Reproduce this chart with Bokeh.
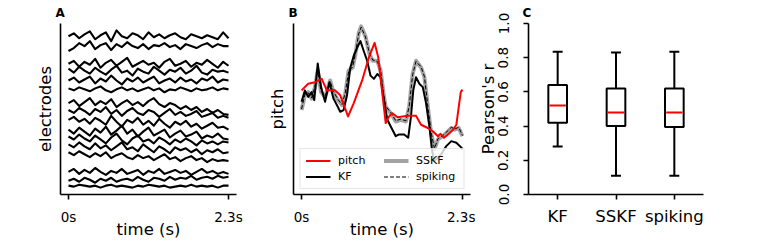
import numpy as np
from bokeh.plotting import figure
from bokeh.layouts import row
from bokeh.models import FixedTicker, Legend, LegendItem, Range1d
from bokeh.embed import file_html
from bokeh.resources import INLINE

FONT = "DejaVu Sans"

# ---------------- Panel A: electrode traces ----------------
trace_t = np.linspace(0, 2.3, 31)
electrode_traces = [
    [165,168,163,167,170,162,166,169,160,171,165,163,168,166,162,169,164,167,163,166,168,164,162,167,165,163,166,164,162,169,163],
    [150,153,158,155,160,152,156,158,151,157,154,159,155,153,157,152,156,155,158,154,156,152,157,155,153,156,158,154,157,155,155],
    [137,140,134,139,136,142,133,138,141,135,139,143,134,137,140,136,138,133,139,142,135,137,140,134,138,136,141,137,133,139,135],
    [132,128,134,130,127,133,129,126,131,135,128,130,125,132,129,127,134,130,126,131,129,133,127,130,135,128,126,131,129,130,128],
    [120,123,118,121,124,117,122,119,125,120,116,122,119,123,118,121,124,117,120,122,118,123,119,121,117,122,120,124,118,121,120],
    [112,110,113,111,109,112,114,110,108,111,113,110,112,109,111,113,110,112,108,111,110,113,111,109,112,110,111,113,110,112,111],
    [97,100,94,98,102,95,99,96,101,93,97,100,95,98,94,99,102,96,93,97,95,91,94,90,93,88,91,87,90,86,85],
    [90,87,92,89,85,91,88,93,86,90,84,89,92,87,85,90,88,83,87,91,85,88,84,86,89,83,85,87,82,84,82],
    [80,83,78,81,76,82,79,75,84,78,73,80,77,82,75,79,74,81,76,72,78,75,79,73,76,71,74,77,72,73,70],
    [70,66,72,68,64,71,67,73,65,69,74,66,70,63,68,72,64,67,70,62,66,69,63,65,68,61,64,62,66,61,60],
    [63,60,65,61,58,64,60,56,62,66,59,55,61,64,58,60,56,62,59,55,60,57,61,58,54,59,56,58,55,58,57],
    [55,52,57,53,50,56,51,54,49,53,57,50,52,48,55,51,47,53,50,46,52,49,51,47,50,45,49,47,50,46,47],
    [47,44,48,45,42,46,43,47,41,44,46,42,40,44,41,43,39,42,45,40,42,38,41,43,39,41,37,40,38,39,38],
    [27,30,25,29,26,31,27,24,28,26,30,25,27,29,24,28,26,30,25,27,29,26,28,24,27,30,26,28,25,27,25],
    [18,20,17,21,19,16,20,18,21,17,19,20,18,22,19,17,21,20,18,22,19,21,20,23,19,21,22,20,23,21,22],
    [13,12,14,13,12,13,11,13,14,12,13,12,11,13,12,14,13,12,13,11,12,13,12,14,12,13,12,13,11,13,13],
]

time_ticks = [0, 2.3]
time_tick_labels = ["0s", "2.3s"]

# ---------------- Panel B: pitch decoding ----------------
pitch_t = [0.000,0.095,0.192,0.289,0.361,0.481,0.553,0.615,0.664,0.745,0.866,0.962,1.044,1.097,1.145,1.203,1.250,
           1.299,1.372,1.516,1.636,1.708,1.805,1.877,1.949,1.987,2.036,2.094,2.166,2.213,2.247,2.276,2.300]
pitch_v = [0.609,0.648,0.657,0.676,0.609,0.609,0.580,0.513,0.456,0.533,0.667,0.801,0.887,0.801,0.628,0.418,0.456,
           0.475,0.452,0.460,0.460,0.408,0.389,0.370,0.341,0.355,0.332,0.351,0.379,0.408,0.513,0.599,0.613]

kf_t = [0.000,0.048,0.095,0.144,0.182,0.231,0.279,0.336,0.398,0.456,0.505,0.553,0.601,0.650,0.697,0.745,0.794,0.842,
        0.889,0.938,0.986,1.034,1.083,1.130,1.178,1.227,1.275,1.347,1.395,1.467,1.525,1.564,1.597,1.636,1.684,1.733,
        1.780,1.828,1.863,1.896,1.954,1.997,2.069,2.141,2.213,2.285,2.300]
kf_v = [0.542,0.609,0.571,0.599,0.552,0.766,0.628,0.542,0.657,0.561,0.523,0.484,0.494,0.580,0.743,0.810,0.858,0.897,
        0.839,0.782,0.695,0.676,0.705,0.686,0.552,0.437,0.398,0.341,0.351,0.351,0.332,0.456,0.609,0.686,0.648,0.628,
        0.533,0.398,0.264,0.195,0.218,0.236,0.283,0.312,0.303,0.274,0.264]

sskf_t = [0.000,0.048,0.095,0.144,0.192,0.231,0.279,0.336,0.409,0.456,0.520,0.578,0.625,0.673,0.731,0.770,0.817,0.852,
          0.914,0.972,1.019,1.083,1.130,1.178,1.203,1.275,1.347,1.419,1.492,1.539,1.588,1.636,1.708,1.756,1.805,1.852,
          1.900,1.949,2.021,2.094,2.141,2.189,2.247,2.300]
sskf_v = [0.494,0.580,0.599,0.561,0.628,0.724,0.599,0.571,0.667,0.599,0.552,0.523,0.590,0.724,0.743,0.820,0.944,0.983,
          0.925,0.820,0.782,0.782,0.724,0.571,0.513,0.475,0.427,0.437,0.427,0.513,0.705,0.782,0.743,0.686,0.513,0.360,
          0.264,0.322,0.341,0.370,0.389,0.379,0.389,0.341]

spiking_t = sskf_t
spiking_v = [0.500,0.585,0.595,0.565,0.632,0.720,0.603,0.575,0.662,0.603,0.556,0.527,0.594,0.720,0.747,0.824,0.940,0.979,
             0.921,0.824,0.786,0.778,0.728,0.575,0.517,0.479,0.431,0.441,0.431,0.517,0.701,0.778,0.747,0.690,0.517,0.364,
             0.268,0.326,0.345,0.374,0.393,0.383,0.393,0.345]

# ---------------- Panel C: Pearson's r box plots ----------------
methods = ["KF", "SSKF", "spiking"]
whisker_low = [0.28, 0.11, 0.11]
q1 = [0.42, 0.40, 0.395]
medians = [0.52, 0.48, 0.48]
q3 = [0.64, 0.62, 0.62]
whisker_high = [0.835, 0.83, 0.835]
r_ticks = [0.0, 0.2, 0.4, 0.6, 0.8, 1.0]


def base_style(p, letter, letter_offset):
    p.outline_line_color = None
    p.xgrid.visible = False
    p.ygrid.visible = False
    p.background_fill_color = "white"
    p.border_fill_color = "white"
    p.title.text = letter
    p.title.text_font = FONT
    p.title.text_font_size = "12px"
    p.title.text_font_style = "bold"
    p.title.text_color = "black"
    p.title.align = "left"
    p.title.offset = letter_offset
    p.title.standoff = 7
    for ax in p.axis:
        ax.axis_line_color = "black"
        ax.axis_line_width = 1.6
        ax.major_tick_line_color = "black"
        ax.major_tick_line_width = 1.6
        ax.major_tick_in = 0
        ax.major_tick_out = 5
        ax.minor_tick_line_color = None
        ax.major_label_text_font = FONT
        ax.major_label_text_font_size = "13.5px"
        ax.major_label_text_color = "black"
        ax.major_label_standoff = 9
        ax.axis_label_text_font = FONT
        ax.axis_label_text_font_size = "16.5px"
        ax.axis_label_text_font_style = "normal"
        ax.axis_label_text_color = "black"
        ax.axis_label_standoff = -8


def time_axis(p):
    p.xaxis.ticker = FixedTicker(ticks=time_ticks)
    p.xaxis.major_label_overrides = dict(zip(time_ticks, time_tick_labels))
    p.xaxis.axis_label = "time (s)"


def bare_y(p, label, standoff):
    p.yaxis.ticker = FixedTicker(ticks=[])
    p.yaxis.major_tick_out = 0
    p.yaxis.major_label_standoff = 0
    p.yaxis.axis_label = label
    p.yaxis.axis_label_standoff = standoff


H = 242
TOP = 22
BOTTOM = 48

# ---- A ----
pA = figure(width=250, height=H, x_range=Range1d(-0.115, 2.415), y_range=Range1d(4, 178),
            output_backend="svg", toolbar_location=None,
            min_border_left=60, min_border_right=14, min_border_top=TOP, min_border_bottom=BOTTOM)
base_style(pA, "A", -5)
time_axis(pA)
bare_y(pA, "electrodes", 6)
pA.multi_line(xs=[list(trace_t)] * len(electrode_traces), ys=electrode_traces,
              line_color="black", line_width=2.1, line_join="round")

# ---- B ----
pB = figure(width=225, height=H, x_range=Range1d(-0.115, 2.415), y_range=Range1d(0, 1),
            output_backend="svg", toolbar_location=None,
            min_border_left=43, min_border_right=5, min_border_top=TOP, min_border_bottom=BOTTOM)
base_style(pB, "B", -5)
time_axis(pB)
bare_y(pB, "pitch", 7)
r_sskf = pB.line(sskf_t, sskf_v, line_color="#999999", line_width=4, line_alpha=0.9, line_join="round")
r_kf = pB.line(kf_t, kf_v, line_color="black", line_width=2, line_join="round")
r_spk = pB.line(spiking_t, spiking_v, line_color="black", line_width=1, line_dash="4 2")
r_pitch = pB.line(pitch_t, pitch_v, line_color="red", line_width=2, line_join="round")
legend = Legend(items=[LegendItem(label="pitch", renderers=[r_pitch]),
                       LegendItem(label="KF", renderers=[r_kf]),
                       LegendItem(label="SSKF", renderers=[r_sskf]),
                       LegendItem(label="spiking", renderers=[r_spk])],
                ncols=2, location="bottom_center")
legend.label_text_font = FONT
legend.label_text_font_size = "11px"
legend.label_text_color = "black"
legend.glyph_width = 25
legend.glyph_height = 13
legend.label_height = 13
legend.label_width = 42
legend.label_standoff = 8
legend.spacing = 3
legend.padding = 5
legend.margin = 5
legend.border_line_color = "#cccccc"
legend.border_line_width = 1
legend.background_fill_alpha = 0.8
pB.add_layout(legend)

# ---- C ----
xpos = np.arange(1, len(methods) + 1)
pC = figure(width=285, height=H, x_range=Range1d(0.5, 3.5), y_range=Range1d(0, 1),
            output_backend="svg", toolbar_location=None,
            min_border_left=53, min_border_right=57, min_border_top=TOP, min_border_bottom=BOTTOM)
base_style(pC, "C", -6)
pC.xaxis.ticker = FixedTicker(ticks=list(xpos))
pC.xaxis.major_label_overrides = {int(k): m for k, m in zip(xpos, methods)}
pC.xaxis.major_label_text_font_size = "16.5px"
pC.xaxis.major_label_standoff = 7
pC.yaxis.ticker = FixedTicker(ticks=r_ticks)
pC.yaxis.major_label_overrides = {t: f"{t:.1f}" for t in r_ticks}
pC.yaxis.major_label_orientation = "vertical"
pC.yaxis.major_label_standoff = 15
pC.yaxis.axis_label = "Pearson's r"
pC.yaxis.axis_label_standoff = -2

box_w = 0.32
cap_w = 0.17
pC.segment(x0=xpos, y0=q3, x1=xpos, y1=whisker_high, line_color="black", line_width=2)
pC.segment(x0=xpos, y0=q1, x1=xpos, y1=whisker_low, line_color="black", line_width=2)
pC.segment(x0=xpos - cap_w / 2, y0=whisker_high, x1=xpos + cap_w / 2, y1=whisker_high, line_color="black", line_width=2)
pC.segment(x0=xpos - cap_w / 2, y0=whisker_low, x1=xpos + cap_w / 2, y1=whisker_low, line_color="black", line_width=2)
pC.vbar(x=xpos, width=box_w, bottom=q1, top=q3, fill_color="white", line_color="black", line_width=2)
pC.segment(x0=xpos - box_w / 2 + 0.02, y0=medians, x1=xpos + box_w / 2 - 0.02, y1=medians, line_color="red", line_width=2)

layout = row(pA, pB, pC)
open("out.html", "w").write(file_html(layout, INLINE))
